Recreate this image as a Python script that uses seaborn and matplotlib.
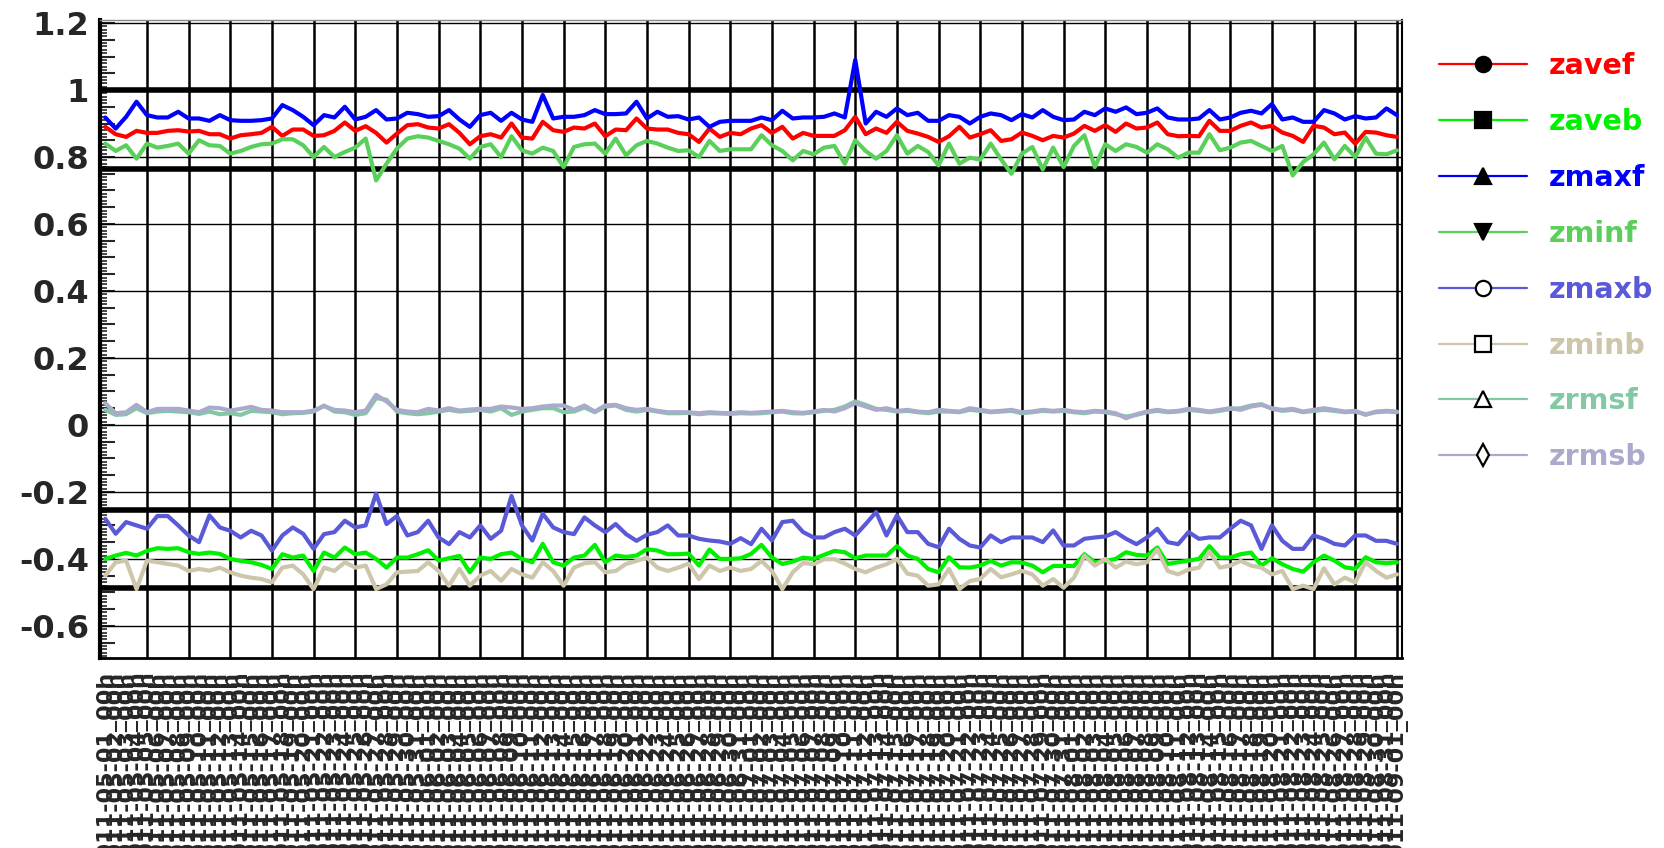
import numpy as np
import pandas as pd
import matplotlib
matplotlib.use("Agg")
import matplotlib.pyplot as plt
from matplotlib.lines import Line2D
import seaborn as sns

# ---- data (one value per run) ----
series_names = ['zavef', 'zaveb', 'zmaxf', 'zminf', 'zmaxb', 'zminb', 'zrmsf', 'zrmsb']
series_colors = ['#ff0000', '#00f000', '#0000ff', '#5acf5a', '#5a5ad8', '#cdc6aa', '#82c8a2', '#aaaacc']
legend_markers = ['o', 's', '^', 'v', 'o', 's', '^', 'd']
marker_filled = [True, True, True, True, False, False, False, False]
ref_levels = [1.0, 0.765, -0.255, -0.488]
ygrid_values = [-0.6, -0.4, -0.2, 0.0, 0.2, 0.4, 0.6, 0.8, 1.0, 1.2]

zavef = [0.89, 0.868, 0.86, 0.878, 0.872, 0.872, 0.878, 0.88, 0.876, 0.878,
         0.868, 0.868, 0.855, 0.865, 0.868, 0.872, 0.89, 0.863, 0.882, 0.882,
         0.863, 0.865, 0.878, 0.903, 0.878, 0.892, 0.872, 0.843, 0.87, 0.895,
         0.898, 0.888, 0.885, 0.898, 0.872, 0.838, 0.862, 0.868, 0.858, 0.9,
         0.858, 0.855, 0.905, 0.88, 0.875, 0.888, 0.885, 0.9, 0.862, 0.882,
         0.88, 0.915, 0.885, 0.882, 0.882, 0.872, 0.868, 0.845, 0.885, 0.86,
         0.872, 0.868, 0.885, 0.895, 0.872, 0.89, 0.855, 0.872, 0.863, 0.863,
         0.863, 0.88, 0.92, 0.868, 0.885, 0.872, 0.905, 0.878, 0.87, 0.86,
         0.845, 0.862, 0.89, 0.858, 0.868, 0.88, 0.848, 0.853, 0.873, 0.863,
         0.85, 0.863, 0.858, 0.87, 0.893, 0.878, 0.895, 0.875, 0.9, 0.885,
         0.888, 0.903, 0.868, 0.862, 0.863, 0.862, 0.908, 0.878, 0.878, 0.893,
         0.903, 0.888, 0.893, 0.873, 0.863, 0.845, 0.893, 0.888, 0.868, 0.873,
         0.84, 0.875, 0.873, 0.865, 0.86]

zaveb = [-0.40, -0.39, -0.382, -0.39, -0.376, -0.368, -0.37, -0.368, -0.38, -0.385,
         -0.381, -0.385, -0.40, -0.406, -0.41, -0.418, -0.43, -0.386, -0.396, -0.39,
         -0.436, -0.381, -0.396, -0.366, -0.386, -0.381, -0.40, -0.426, -0.396, -0.396,
         -0.386, -0.374, -0.405, -0.398, -0.391, -0.44, -0.396, -0.40, -0.386, -0.381,
         -0.40, -0.41, -0.355, -0.41, -0.42, -0.396, -0.39, -0.358, -0.41, -0.39,
         -0.394, -0.39, -0.371, -0.375, -0.386, -0.386, -0.384, -0.42, -0.372, -0.40,
         -0.40, -0.398, -0.385, -0.358, -0.396, -0.415, -0.408, -0.396, -0.40, -0.388,
         -0.376, -0.38, -0.398, -0.39, -0.39, -0.39, -0.362, -0.39, -0.40, -0.43,
         -0.44, -0.395, -0.425, -0.426, -0.42, -0.406, -0.42, -0.41, -0.411, -0.42,
         -0.44, -0.421, -0.421, -0.421, -0.386, -0.41, -0.406, -0.40, -0.38, -0.388,
         -0.39, -0.366, -0.415, -0.41, -0.405, -0.40, -0.362, -0.396, -0.396, -0.386,
         -0.381, -0.42, -0.398, -0.416, -0.43, -0.438, -0.41, -0.39, -0.405, -0.425,
         -0.43, -0.395, -0.41, -0.413, -0.41]

zmaxf = [0.918, 0.885, 0.92, 0.965, 0.925, 0.918, 0.918, 0.935, 0.915, 0.915,
         0.908, 0.925, 0.91, 0.908, 0.908, 0.91, 0.915, 0.955, 0.94, 0.92,
         0.895, 0.925, 0.918, 0.95, 0.912, 0.92, 0.94, 0.912, 0.915, 0.932,
         0.928, 0.92, 0.922, 0.94, 0.912, 0.89, 0.925, 0.932, 0.908, 0.932,
         0.912, 0.905, 0.985, 0.915, 0.92, 0.92, 0.925, 0.94, 0.928, 0.928,
         0.93, 0.965, 0.915, 0.935, 0.92, 0.922, 0.912, 0.918, 0.89, 0.905,
         0.908, 0.908, 0.908, 0.918, 0.91, 0.938, 0.915, 0.918, 0.918, 0.92,
         0.93, 0.918, 1.09, 0.90, 0.935, 0.92, 0.945, 0.925, 0.932, 0.908,
         0.908, 0.925, 0.92, 0.90, 0.92, 0.93, 0.925, 0.91, 0.928, 0.918,
         0.94, 0.92, 0.91, 0.912, 0.935, 0.925, 0.945, 0.935, 0.948, 0.928,
         0.932, 0.945, 0.918, 0.912, 0.912, 0.915, 0.94, 0.912, 0.918, 0.932,
         0.938, 0.93, 0.958, 0.912, 0.918, 0.905, 0.905, 0.94, 0.93, 0.912,
         0.922, 0.915, 0.918, 0.945, 0.925]

zminf = [0.84, 0.818, 0.835, 0.795, 0.84, 0.828, 0.833, 0.84, 0.81, 0.85,
         0.835, 0.833, 0.81, 0.818, 0.83, 0.838, 0.84, 0.853, 0.853, 0.835,
         0.80, 0.83, 0.80, 0.815, 0.828, 0.855, 0.73, 0.78, 0.825, 0.855,
         0.862, 0.858, 0.848, 0.838, 0.825, 0.795, 0.83, 0.838, 0.80, 0.862,
         0.82, 0.81, 0.828, 0.818, 0.77, 0.83, 0.838, 0.84, 0.81, 0.855,
         0.805, 0.835, 0.848, 0.84, 0.828, 0.818, 0.82, 0.80, 0.848, 0.818,
         0.823, 0.823, 0.823, 0.865, 0.835, 0.818, 0.79, 0.818, 0.808, 0.828,
         0.833, 0.78, 0.85, 0.818, 0.795, 0.818, 0.865, 0.81, 0.833, 0.815,
         0.775, 0.84, 0.78, 0.798, 0.792, 0.84, 0.793, 0.75, 0.81, 0.83,
         0.763, 0.828, 0.77, 0.833, 0.865, 0.77, 0.838, 0.818, 0.838, 0.83,
         0.813, 0.838, 0.823, 0.798, 0.813, 0.813, 0.868, 0.82, 0.828, 0.843,
         0.848, 0.833, 0.818, 0.833, 0.745, 0.785, 0.808, 0.843, 0.793, 0.833,
         0.80, 0.858, 0.81, 0.808, 0.82]

zmaxb = [-0.28, -0.325, -0.29, -0.30, -0.31, -0.272, -0.272, -0.30, -0.33, -0.35,
         -0.27, -0.306, -0.316, -0.336, -0.316, -0.33, -0.375, -0.33, -0.306, -0.325,
         -0.37, -0.326, -0.32, -0.286, -0.306, -0.30, -0.205, -0.296, -0.272, -0.33,
         -0.32, -0.286, -0.336, -0.356, -0.32, -0.336, -0.30, -0.34, -0.316, -0.212,
         -0.30, -0.345, -0.265, -0.306, -0.32, -0.326, -0.276, -0.30, -0.32, -0.296,
         -0.326, -0.346, -0.328, -0.32, -0.30, -0.33, -0.33, -0.34, -0.345, -0.348,
         -0.355, -0.338, -0.356, -0.31, -0.345, -0.29, -0.286, -0.32, -0.336, -0.336,
         -0.32, -0.31, -0.33, -0.296, -0.26, -0.33, -0.27, -0.32, -0.32, -0.355,
         -0.365, -0.31, -0.34, -0.36, -0.366, -0.33, -0.35, -0.336, -0.336, -0.336,
         -0.35, -0.315, -0.36, -0.36, -0.34, -0.336, -0.333, -0.32, -0.34, -0.356,
         -0.336, -0.31, -0.35, -0.356, -0.32, -0.34, -0.336, -0.336, -0.31, -0.286,
         -0.30, -0.37, -0.30, -0.346, -0.37, -0.37, -0.33, -0.34, -0.355, -0.36,
         -0.33, -0.33, -0.346, -0.346, -0.355]

zminb = [-0.45, -0.41, -0.405, -0.49, -0.405, -0.41, -0.415, -0.42, -0.436, -0.43,
         -0.435, -0.426, -0.44, -0.45, -0.456, -0.46, -0.47, -0.426, -0.42, -0.446,
         -0.49, -0.426, -0.436, -0.41, -0.426, -0.42, -0.49, -0.476, -0.44, -0.438,
         -0.436, -0.41, -0.436, -0.48, -0.43, -0.48, -0.45, -0.436, -0.465, -0.43,
         -0.446, -0.456, -0.41, -0.436, -0.48, -0.426, -0.413, -0.41, -0.44, -0.436,
         -0.415, -0.406, -0.396, -0.426, -0.436, -0.426, -0.414, -0.46, -0.42, -0.436,
         -0.426, -0.436, -0.43, -0.406, -0.436, -0.49, -0.44, -0.412, -0.416, -0.401,
         -0.401, -0.414, -0.43, -0.44, -0.426, -0.416, -0.40, -0.444, -0.45, -0.48,
         -0.476, -0.43, -0.49, -0.466, -0.46, -0.43, -0.455, -0.446, -0.436, -0.446,
         -0.48, -0.46, -0.486, -0.456, -0.39, -0.42, -0.40, -0.426, -0.408, -0.416,
         -0.41, -0.372, -0.436, -0.446, -0.432, -0.426, -0.378, -0.426, -0.42, -0.406,
         -0.42, -0.426, -0.446, -0.436, -0.49, -0.48, -0.49, -0.428, -0.476, -0.456,
         -0.47, -0.41, -0.436, -0.456, -0.446]

zrmsf = [0.045, 0.03, 0.032, 0.05, 0.035, 0.04, 0.042, 0.04, 0.038, 0.033,
         0.04, 0.032, 0.035, 0.03, 0.042, 0.04, 0.038, 0.032, 0.035, 0.036,
         0.04, 0.058, 0.04, 0.038, 0.03, 0.035, 0.08, 0.075, 0.04, 0.035,
         0.032, 0.035, 0.04, 0.045, 0.04, 0.042, 0.045, 0.04, 0.05, 0.03,
         0.04, 0.045, 0.05, 0.05, 0.038, 0.04, 0.052, 0.038, 0.055, 0.058,
         0.045, 0.04, 0.045, 0.04, 0.035, 0.035, 0.036, 0.032, 0.035, 0.034,
         0.033, 0.035, 0.034, 0.035, 0.038, 0.04, 0.035, 0.034, 0.038, 0.042,
         0.045, 0.055, 0.07, 0.06, 0.048, 0.045, 0.04, 0.042, 0.038, 0.035,
         0.04, 0.04, 0.038, 0.045, 0.042, 0.038, 0.04, 0.042, 0.035, 0.038,
         0.042, 0.04, 0.042, 0.038, 0.035, 0.04, 0.038, 0.032, 0.025, 0.03,
         0.038, 0.042, 0.038, 0.04, 0.045, 0.042, 0.038, 0.042, 0.048, 0.05,
         0.058, 0.062, 0.048, 0.042, 0.045, 0.038, 0.042, 0.045, 0.042, 0.038,
         0.04, 0.032, 0.038, 0.04, 0.038]

zrmsb = [0.065, 0.035, 0.038, 0.06, 0.038, 0.048, 0.048, 0.048, 0.043, 0.038,
         0.052, 0.05, 0.043, 0.048, 0.054, 0.045, 0.043, 0.038, 0.038, 0.038,
         0.043, 0.056, 0.045, 0.043, 0.038, 0.043, 0.09, 0.07, 0.045, 0.04,
         0.038, 0.048, 0.043, 0.05, 0.043, 0.046, 0.048, 0.048, 0.055, 0.052,
         0.048, 0.05, 0.055, 0.058, 0.058, 0.045, 0.058, 0.04, 0.058, 0.06,
         0.05, 0.045, 0.048, 0.042, 0.038, 0.038, 0.038, 0.035, 0.038, 0.036,
         0.035, 0.038, 0.036, 0.038, 0.04, 0.042, 0.038, 0.036, 0.04, 0.045,
         0.04, 0.05, 0.065, 0.055, 0.045, 0.05, 0.042, 0.045, 0.04, 0.038,
         0.045, 0.042, 0.04, 0.05, 0.045, 0.04, 0.042, 0.045, 0.038, 0.04,
         0.045, 0.042, 0.045, 0.04, 0.038, 0.042, 0.04, 0.035, 0.02, 0.032,
         0.04, 0.045, 0.04, 0.042, 0.048, 0.045, 0.04, 0.045, 0.05, 0.045,
         0.055, 0.06, 0.05, 0.045, 0.048, 0.04, 0.045, 0.05, 0.045, 0.04,
         0.042, 0.03, 0.04, 0.042, 0.04]

n_runs = len(zavef)
bins = np.arange(n_runs)
# bin labels (illegible in the reference: run number + date)
run_numbers = [160404 + 7 * i for i in range(n_runs)]
run_labels = [f"R{r}_2011-{5 + i // 31:02d}-{1 + i % 31:02d}_00h" for i, r in enumerate(run_numbers)]
xgrid_bins = list(range(4, n_runs, 4))

values = dict(zip(series_names, [zavef, zaveb, zmaxf, zminf, zmaxb, zminb, zrmsf, zrmsb]))
df = pd.DataFrame({'bin': bins, **values})
long_df = df.melt(id_vars='bin', var_name='series', value_name='value')

sns.set_style('white')
plt.rcParams['font.family'] = ['DejaVu Sans']

fig = plt.figure(figsize=(16.65, 8.48), dpi=100)
ax = fig.add_axes([0.0601, 0.224, 0.782, 0.7524])

# grid + reference lines
for v in ygrid_values:
    ax.axhline(v, color='black', lw=1.0, zorder=1)
for b in xgrid_bins:
    ax.axvline(b, color='black', lw=1.8, zorder=1)
for v in ref_levels:
    ax.axhline(v, color='black', lw=4, zorder=1.5)

sns.lineplot(data=long_df, x='bin', y='value', hue='series', hue_order=series_names,
             palette=dict(zip(series_names, series_colors)), linewidth=3,
             legend=False, errorbar=None, ax=ax, zorder=3)

ax.set_xlim(-0.5, n_runs - 0.5)
ax.set_ylim(-0.696, 1.209)
ax.set_xlabel('')
ax.set_ylabel('')
ax.grid(False)

# x: one (overlapping) label per run
ax.set_xticks(bins)
ax.set_xticklabels(run_labels, rotation=90, fontsize=16, fontweight='bold', va='top')
ax.tick_params(axis='x', which='both', length=0, pad=9)

# y: labels every 0.2, ticks every 0.05 and 0.01
yt = np.arange(-13, 25) * 0.05
ax.set_yticks(yt)
ax.set_yticklabels([('%g' % (round(v, 1) + 0.0)) if abs(v / 0.2 - round(v / 0.2)) < 1e-6 else ''
                    for v in yt], fontsize=23, fontweight='bold')
ax.set_yticks(np.arange(-69, 121) * 0.01, minor=True)
ax.tick_params(axis='y', which='major', direction='in', length=11, width=1.5, pad=8, left=True)
ax.tick_params(axis='y', which='minor', direction='in', length=5, width=1.2, left=True)

for side, lw, col in [('left', 3, 'black'), ('bottom', 2, 'black'),
                      ('right', 1.5, 'black'), ('top', 1, '#888888')]:
    ax.spines[side].set_visible(True)
    ax.spines[side].set_linewidth(lw)
    ax.spines[side].set_color(col)

handles = [Line2D([0], [0], color=c, lw=1.6, marker=m, ms=11,
                  mfc='black' if f else 'white', mec='black', mew=1.6)
           for c, m, f in zip(series_colors, legend_markers, marker_filled)]
fig.legend(handles, series_names, loc='upper left', bbox_to_anchor=(1439 / 1665, 1 - 52 / 848),
           frameon=False, prop={'weight': 'bold', 'size': 20.5}, labelcolor=series_colors,
           handlelength=3.1, handletextpad=0.75, labelspacing=0.98,
           borderpad=0, borderaxespad=0)

fig.savefig('out.png', dpi=100)
